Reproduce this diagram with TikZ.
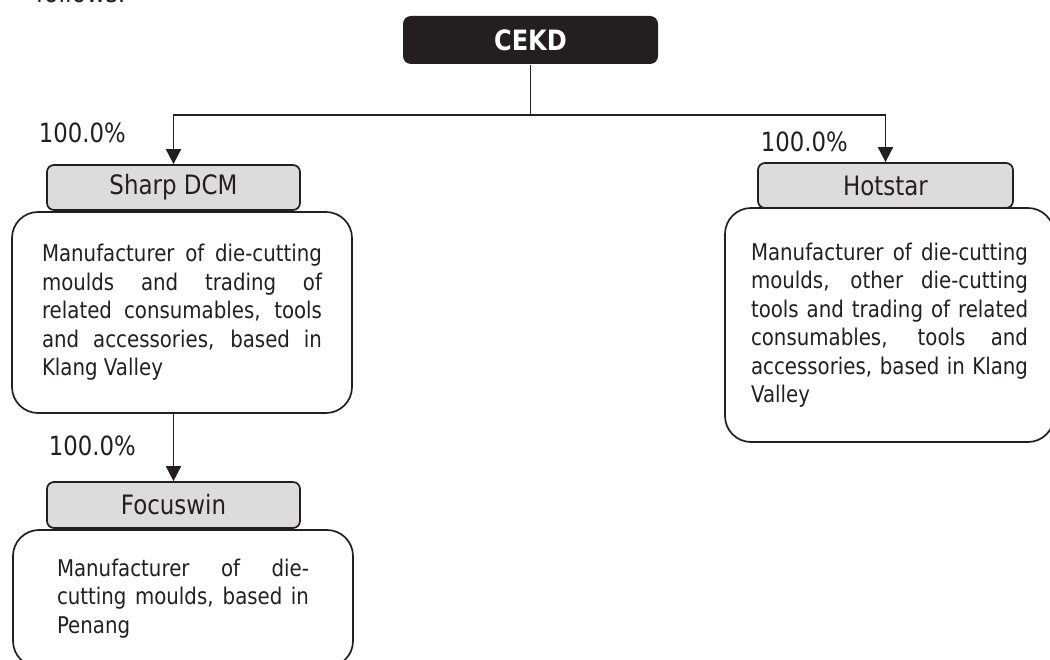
\documentclass[tikz,border=0pt]{standalone}
\usepackage{fontspec}
\setmainfont{DejaVu Sans}[FakeStretch=0.86]
\usepackage{xcolor}
\definecolor{inkdark}{HTML}{231F20}
\definecolor{labelgrey}{HTML}{DCDCDC}
\usetikzlibrary{arrows.meta}
\hyphenpenalty=10000
\tolerance=9999

\begin{document}
\begin{tikzpicture}[x=1pt, y=-1pt, >={Triangle[length=15pt, width=15pt]},
    line width=1.7pt, color=inkdark,
    headbox/.style={fill=inkdark, rounded corners=8pt, minimum width=255pt, minimum height=48pt,
        inner sep=0pt, text=white, font=\fontsize{28}{30}\selectfont\bfseries},
    namebox/.style={draw=inkdark, fill=labelgrey, rounded corners=7pt, minimum width=253pt,
        minimum height=45pt, inner sep=0pt, font=\fontsize{26.7}{30}\selectfont},
    descbox/.style={draw=inkdark, rounded corners=26pt, inner sep=0pt, align=justify,
        font=\fontsize{23}{28.5}\selectfont},
    pct/.style={anchor=base west, inner sep=0pt, font=\fontsize{26.5}{30}\selectfont}]

    \useasboundingbox (0,0) rectangle (1050,660);
    \clip (0,0) rectangle (1050,660);

    % ===== PAGE TEXT ABOVE =====
    \node[anchor=base west, inner sep=0pt, font=\fontsize{27.5}{30}\selectfont] (follows) at (35,3) {follows.};

    % ===== HOLDING COMPANY =====
    \node[headbox] (cekd) at (530.5,40) {CEKD};

    % ===== DESCRIPTIONS =====
    \node[descbox, text width=280pt, minimum width=340pt, minimum height=201pt] (sharpdesc) at (182,312.5)
        {Manufacturer of die-cutting\linebreak moulds and trading of\linebreak related consumables, tools\linebreak and accessories, based in\linebreak Klang Valley};
    \node[descbox, text width=277pt, minimum width=329pt, minimum height=234pt] (hotdesc) at (889.5,325)
        {Manufacturer of die-cutting\linebreak moulds, other die-cutting\linebreak tools and trading of related\linebreak consumables, tools and\linebreak accessories, based in Klang\linebreak Valley};
    \node[descbox, text width=252pt, minimum width=340pt, minimum height=137pt] (focusdesc) at (183,598.5)
        {Manufacturer of die-\linebreak cutting moulds, based in\linebreak Penang};

    % ===== SUBSIDIARIES =====
    \node[namebox] (sharp) at (173.5,187.5) {Sharp DCM};
    \node[namebox, minimum width=255pt] (hotstar) at (885.5,185.5) {Hotstar};
    \node[namebox, minimum height=46pt] (focuswin) at (173.5,505) {Focuswin};

    % ===== OWNERSHIP =====
    \node[pct] (pctsharp) at (38,143) {100.0\%};
    \node[pct] (pcthot) at (760,152) {100.0\%};
    \node[pct] (pctfocus) at (48,455) {100.0\%};

    \coordinate (bus) at (530.5,115);
    \draw (cekd.south) -- (bus);
    \draw[->] (bus) -| (sharp.north);
    \draw[->] (bus) -| (hotstar.north);
    \draw[->] (sharp |- sharpdesc.south) -- (focuswin.north);

\end{tikzpicture}
\end{document}
